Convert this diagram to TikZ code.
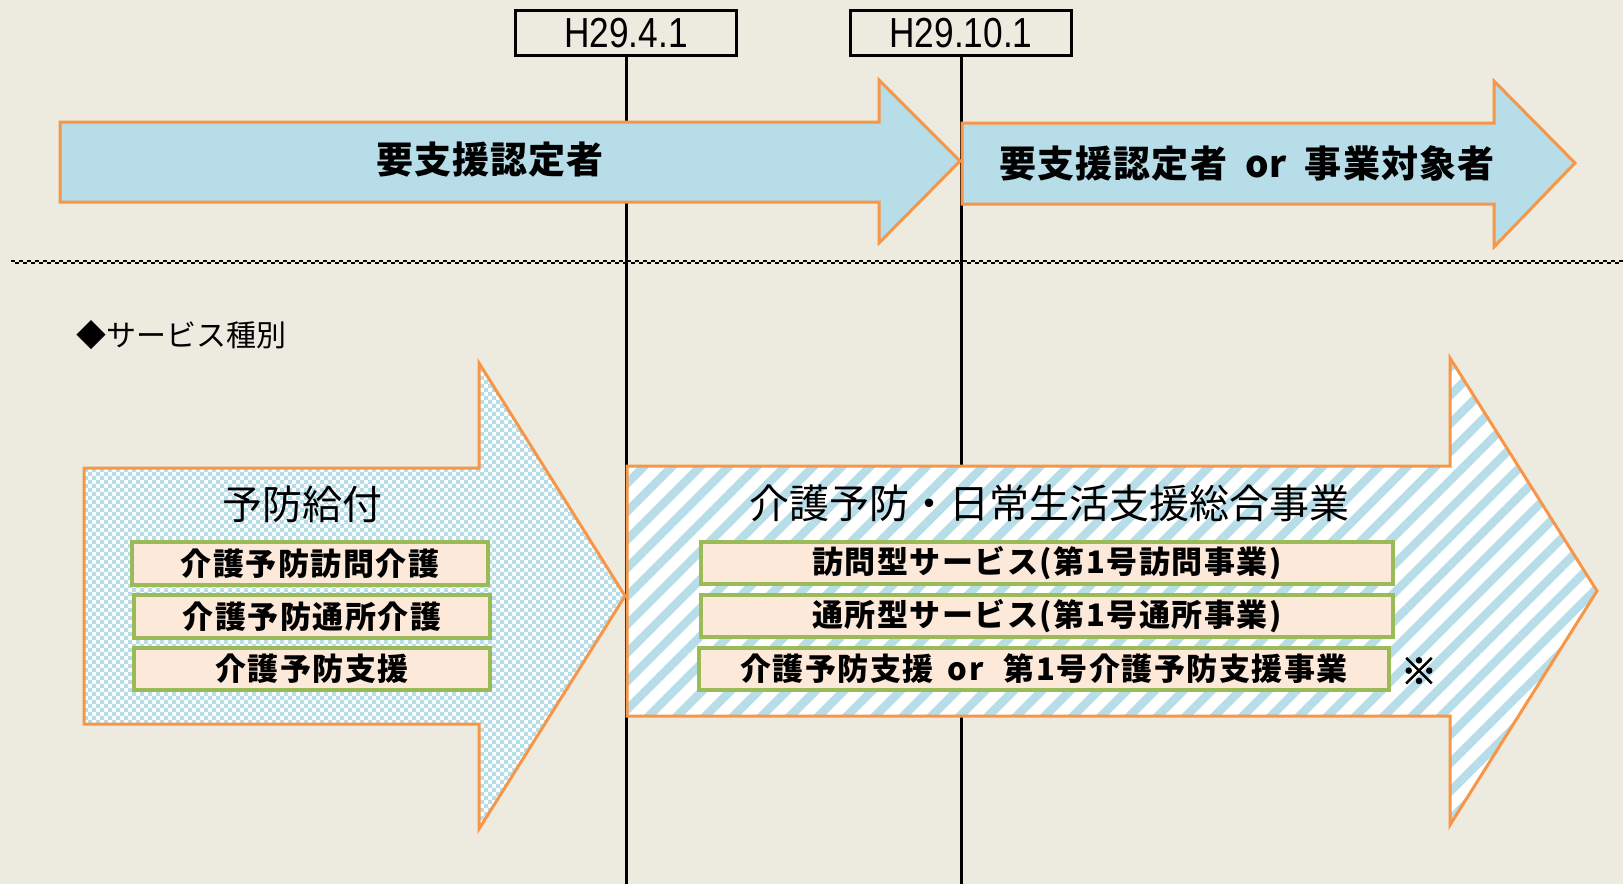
\documentclass[tikz,border=0pt]{standalone}
\usepackage{fontspec}
\usetikzlibrary{patterns,patterns.meta}
\newfontfamily\jp{Noto Sans CJK JP}
\newfontfamily\datefont{Liberation Sans}[FakeStretch=0.84]
\definecolor{bg}{HTML}{EDEBE0}
\definecolor{lblue}{HTML}{B7DDE8}
\definecolor{orng}{HTML}{F79646}
\definecolor{peach}{HTML}{FDE9D9}
\definecolor{grn}{HTML}{9BBB59}
\pgfdeclarepatternformonly{bigcheck}{\pgfqpoint{-0.1pt}{-0.1pt}}{\pgfqpoint{8.1pt}{8.1pt}}{\pgfqpoint{8pt}{8pt}}{%
  \pgfpathrectangle{\pgfpointorigin}{\pgfqpoint{4pt}{4pt}}%
  \pgfpathrectangle{\pgfqpoint{4pt}{4pt}}{\pgfqpoint{4pt}{4pt}}%
  \pgfusepath{fill}}
\tikzset{
  datebox/.style={draw=black, line width=3.5pt, fill=bg, minimum width=221pt, minimum height=45pt, inner sep=0pt, font=\datefont\fontsize{42}{42}\selectfont},
  vline/.style={draw=black, line width=3pt},
  toparrow/.style={fill=lblue, draw=orng, line width=3pt, line join=miter},
  checkarrow/.style={draw=orng, line width=3pt, preaction={fill=white}, pattern=bigcheck, pattern color=lblue},
  stripearrow/.style={draw=orng, line width=3pt, preaction={fill=white}, pattern={Lines[angle=45,distance=20pt,line width=8.5pt]}, pattern color=lblue},
  subbox/.style={draw=grn, line width=3.2pt, fill=peach, inner sep=0pt, font=\jp\bfseries\fontsize{31}{31}\selectfont\addfontfeature{LetterSpace=5}},
  toptext/.style={inner sep=0pt, font=\jp\bfseries\fontsize{37}{37}\selectfont\addfontfeature{LetterSpace=3}},
  titletext/.style={inner sep=0pt, font=\jp\fontsize{#1}{#1}\selectfont},
  dashline/.style={draw=black, line width=2pt, dash pattern=on 4pt off 4pt}
}
\begin{document}
\begin{tikzpicture}[x=1pt,y=-1pt]
\useasboundingbox[fill=bg] (0,0) rectangle (1623,884);
% dashed separator
\coordinate (dl1) at (11,261);
\coordinate (dr1) at (1623,261);
\coordinate (dl2) at (11,263);
\coordinate (dr2) at (1623,263);
\draw[dashline] (dl1) -- (dr1);
\draw[dashline, dash phase=4pt] (dl2) -- (dr2);
% date boxes and lines
\node[datebox] (d1) at (626,33) {H29.4.1};
\node[datebox] (d2) at (961,33) {H29.10.1};
\coordinate (e1) at (d1.south |- 0,884);
\coordinate (e2) at (d2.south |- 0,884);
\draw[vline] (d1.south) -- (e1);
\draw[vline] (d2.south) -- (e2);
% top arrows
\draw[toparrow] (60,122) -- (879,122) -- (879,80) -- (960,161) -- (879,243) -- (879,202) -- (60,202) -- cycle;
\draw[toparrow] (962,123) -- (1494,123) -- (1494,81) -- (1575,163) -- (1494,247) -- (1494,204) -- (962,204) -- cycle;
\node[toptext] (t1) at (490,160) {要支援認定者};
\node[toptext] (t2) at (1247,163) {要支援認定者\hspace{18pt}or\hspace{18pt}事業対象者};
% section label
\node[titletext=30, anchor=west] (lab) at (76,335) {◆サービス種別};
% lower arrows
\draw[checkarrow] (84,468) -- (479,468) -- (479,363) -- (625,596) -- (479,829) -- (479,724) -- (84,724) -- cycle;
\draw[stripearrow] (627,466) -- (1450,466) -- (1450,358) -- (1597,591) -- (1450,825) -- (1450,716) -- (627,716) -- cycle;
\node[titletext=40] (y1) at (302,504) {予防給付};
\node[titletext=40] (y2) at (1049,503) {介護予防・日常生活支援総合事業};
% sub boxes
\node[subbox, minimum width=356pt, minimum height=43pt] (b1) at (310,563.5) {介護予防訪問介護};
\node[subbox, minimum width=356pt, minimum height=43pt] (b2) at (312,616.5) {介護予防通所介護};
\node[subbox, minimum width=356pt, minimum height=42pt] (b3) at (312,669) {介護予防支援};
\node[subbox, minimum width=692pt, minimum height=42pt] (c1) at (1047,563) {訪問型サービス(第1号訪問事業)};
\node[subbox, minimum width=692pt, minimum height=42pt] (c2) at (1047,616) {通所型サービス(第1号通所事業)};
\node[subbox, minimum width=690pt, minimum height=42pt] (c3) at (1044,669) {介護予防支援\hspace{14pt}or\hspace{20pt}第1号介護予防支援事業};
\node[inner sep=0pt, font=\jp\bfseries\fontsize{36}{36}\selectfont\addfontfeature{FakeBold=3}] (note) at (1419,671) {※};
\end{tikzpicture}
\end{document}
